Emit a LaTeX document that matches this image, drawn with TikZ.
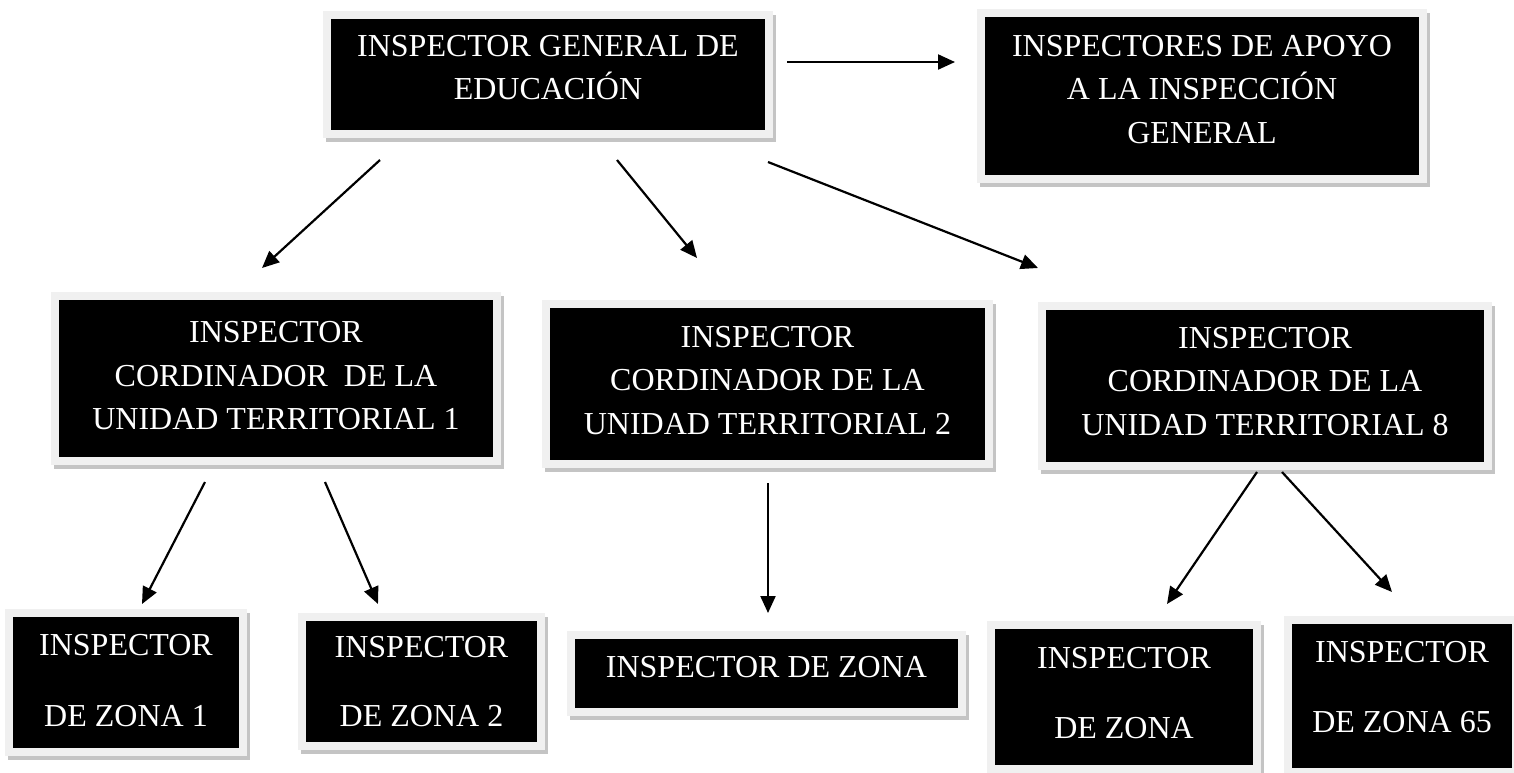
\documentclass[tikz,border=0pt]{standalone}
\usepackage{fontspec}
\setmainfont{Liberation Serif}
\usetikzlibrary{arrows.meta}
\definecolor{framegray}{HTML}{F0F0F0}
\definecolor{shadowgray}{HTML}{C4C4C4}
\begin{document}
\begin{tikzpicture}[x=1pt,y=-1pt,
  orgbox/.style={rectangle, fill=black, draw=framegray, line width=8pt, inner sep=0pt,
    preaction={fill=shadowgray, draw=shadowgray, line width=8pt, transform canvas={xshift=3pt,yshift=-4pt}}},
  txt/.style={text=white, align=center, font=\fontsize{32}{43.5}\selectfont, inner sep=0pt},
  arr/.style={line width=2.2pt, -{Triangle[length=17pt,width=15pt]}}]
\useasboundingbox (0,0) rectangle (1514,772);
\fill[white] (0,0) rectangle (1514,772);

% top row
\node[orgbox, minimum width=442pt, minimum height=119pt,
  label={[txt, yshift=5pt]center:{\strut INSPECTOR GENERAL DE\\EDUCACIÓN\strut}}] (gen) at (548,74.5) {};
\node[orgbox, minimum width=442pt, minimum height=166pt,
  label={[txt, yshift=5pt]center:{\strut INSPECTORES DE APOYO\\A LA INSPECCIÓN\\GENERAL\strut}}] (apoyo) at (1202,96) {};

% middle row
\node[orgbox, minimum width=442pt, minimum height=165pt,
  label={[txt, yshift=1pt]center:{\strut INSPECTOR\\CORDINADOR\ \ DE LA\\UNIDAD TERRITORIAL 1\strut}}] (ut1) at (276,378.5) {};
\node[orgbox, minimum width=443pt, minimum height=160pt,
  label={[txt, yshift=2pt]center:{\strut INSPECTOR\\CORDINADOR DE LA\\UNIDAD TERRITORIAL 2\strut}}] (ut2) at (767.5,384) {};
\node[orgbox, minimum width=446pt, minimum height=160pt,
  label={[txt, yshift=3pt]center:{\strut INSPECTOR\\CORDINADOR DE LA\\UNIDAD TERRITORIAL 8\strut}}] (ut8) at (1265,386) {};

% bottom row
\node[orgbox, minimum width=234pt, minimum height=139pt,
  label={[txt, yshift=0pt]center:{\strut INSPECTOR\\[27pt]DE ZONA 1\strut}}] (z1) at (126,682.5) {};
\node[orgbox, minimum width=239pt, minimum height=129pt,
  label={[txt, yshift=-2pt]center:{\strut INSPECTOR\\[26pt]DE ZONA 2\strut}}] (z2) at (421.5,681.5) {};
\node[orgbox, minimum width=391pt, minimum height=77pt,
  label={[txt, yshift=5pt]center:{\strut INSPECTOR DE ZONA\strut}}] (zm) at (766.5,673.5) {};
\node[orgbox, minimum width=266pt, minimum height=144pt,
  label={[txt, yshift=2pt]center:{\strut INSPECTOR\\[26pt]DE ZONA\strut}}] (zl) at (1124,697) {};
\node[orgbox, minimum width=228pt, minimum height=152pt,
  label={[txt, yshift=7pt]center:{\strut INSPECTOR\\[26pt]DE ZONA 65\strut}}] (z65) at (1402,696) {};

% connectors
\draw[arr] ([shift={(14,-12.5)}]gen.east) -- ([shift={(-22,-34)}]apoyo.west);
\draw[arr] ([shift={(-168,22)}]gen.south) -- ([shift={(-14,-24)}]ut1.north);
\draw[arr] ([shift={(69,22)}]gen.south) -- ([shift={(-70.5,-42)}]ut2.north);
\draw[arr] ([shift={(220,24)}]gen.south) -- ([shift={(-227,-34)}]ut8.north);
\draw[arr] ([shift={(-71,17)}]ut1.south) -- ([shift={(16,-5)}]z1.north);
\draw[arr] ([shift={(49,17)}]ut1.south) -- ([shift={(-43.5,-9)}]z2.north);
\draw[arr] ([shift={(0.5,15)}]ut2.south) -- ([shift={(1.5,-18)}]zm.north);
\draw[arr] ([shift={(-8,2)}]ut8.south) -- ([shift={(43,-17)}]zl.north);
\draw[arr] ([shift={(17,2)}]ut8.south) -- ([shift={(-10,-24)}]z65.north);
\end{tikzpicture}
\end{document}
